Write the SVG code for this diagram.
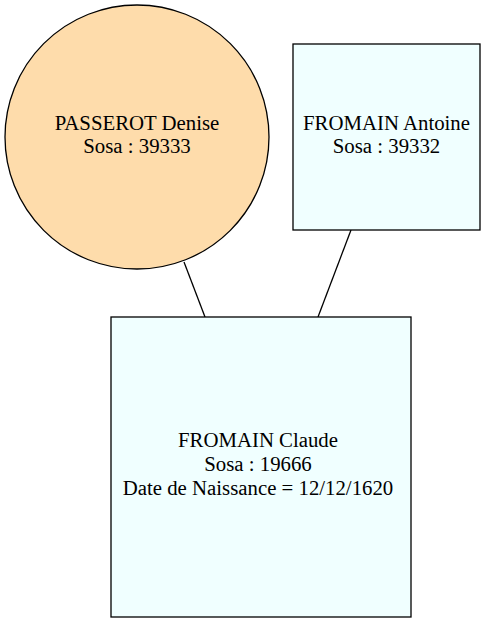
<svg xmlns="http://www.w3.org/2000/svg" width="485" height="623" viewBox="0 0 485 623">
<style>
.n{stroke:#000;stroke-width:1.3}
.t{font-family:"Liberation Serif","Times New Roman",serif;font-size:20.8px;text-anchor:middle;fill:#000}
.e{stroke:#000;stroke-width:1.3;fill:none}
</style>
<rect width="485" height="623" fill="#fff"/>
<g id="edges">
<line class="e" x1="184" y1="262" x2="205" y2="317"/>
<line class="e" x1="351" y1="230" x2="318" y2="317"/>
</g>
<g id="denise">
<circle class="n" cx="137" cy="137" r="132" fill="#fedcab"/>
<text class="t" x="137" y="130">PASSEROT Denise</text>
<text class="t" x="137" y="153">Sosa : 39333</text>
</g>
<g id="antoine">
<rect class="n" x="293" y="44" width="187" height="186" fill="#f0ffff"/>
<text class="t" x="386.5" y="130">FROMAIN Antoine</text>
<text class="t" x="386.5" y="153">Sosa : 39332</text>
</g>
<g id="claude">
<rect class="n" x="111" y="317" width="300" height="300" fill="#f0ffff"/>
<text class="t" x="258" y="447">FROMAIN Claude</text>
<text class="t" x="258" y="471">Sosa : 19666</text>
<text class="t" x="258" y="495">Date de Naissance = 12/12/1620</text>
</g>
</svg>
